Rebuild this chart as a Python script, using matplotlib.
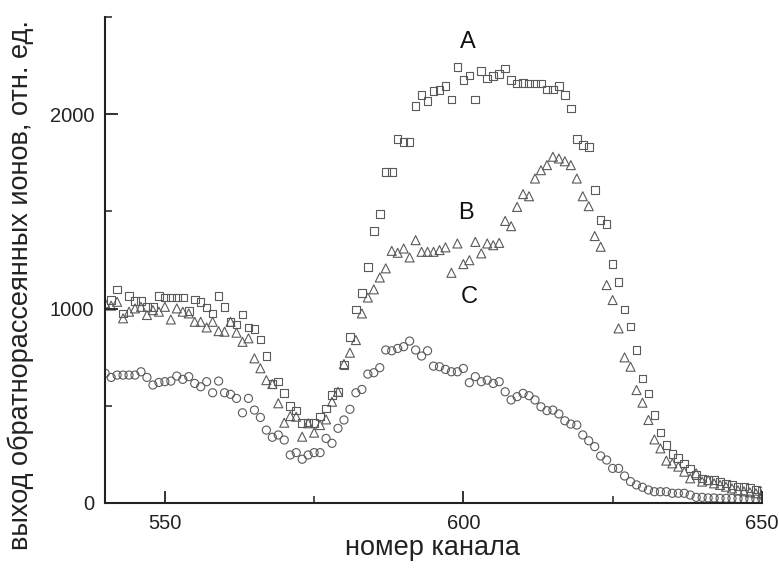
import numpy as np
import matplotlib
matplotlib.use('Agg')
import matplotlib.pyplot as plt
from matplotlib.ticker import MultipleLocator

plt.rcParams['font.family'] = ['Liberation Sans', 'DejaVu Sans']

# curve A (squares), channels 541..650
ch_a = np.arange(541, 651)
val_a = [1044, 1099, 975, 1064, 1040, 1040, 1009, 1009, 1064, 1058,
         1058, 1058, 1058, 989, 1047, 1035, 1006, 975, 1064, 1009,
         932, 919, 970, 903, 895, 842, 757, 612, 624, 567,
         499, 475, 410, 415, 413, 444, 487, 555, 572, 709,
         855, 996, 1081, 1215, 1400, 1486, 1703, 1703, 1871, 1858,
         1858, 2041, 2098, 2068, 2118, 2123, 2144, 2076, 2243, 2175,
         2200, 2076, 2221, 2184, 2195, 2206, 2235, 2175, 2158, 2161,
         2158, 2158, 2158, 2127, 2127, 2144, 2098, 2029, 1871, 1841,
         1832, 1609, 1455, 1434, 1229, 1138, 996, 907, 787, 641,
         564, 452, 362, 298, 252, 230, 204, 178, 144, 127,
         118, 118, 110, 101, 93, 84, 84, 78, 70, 65]

# curve B (triangles), channels 540..650
ch_b = np.arange(540, 651)
val_b = [1027, 1015, 1035, 950, 984, 1001, 1009, 967, 992, 984,
         1009, 944, 1001, 984, 975, 932, 932, 903, 932, 884,
         881, 932, 876, 829, 847, 744, 693, 632, 612, 513,
         413, 447, 444, 341, 410, 362, 401, 430, 521, 572,
         715, 773, 838, 975, 1057, 1099, 1160, 1207, 1297, 1287,
         1309, 1263, 1352, 1292, 1292, 1292, 1301, 1315, 1184, 1335,
         1229, 1249, 1343, 1284, 1335, 1326, 1338, 1451, 1424, 1523,
         1589, 1578, 1669, 1712, 1738, 1781, 1772, 1758, 1738, 1669,
         1578, 1527, 1373, 1318, 1121, 1044, 898, 749, 701, 581,
         516, 427, 327, 281, 218, 204, 187, 161, 127, 153,
         110, 118, 101, 93, 84, 75, 65, 60, 55, 50, 45]

# curve C (circles), channels 540..650
ch_c = np.arange(540, 651)
val_c = [667, 646, 658, 658, 658, 658, 675, 646, 607, 620,
         624, 627, 653, 636, 650, 615, 598, 624, 567, 627,
         567, 559, 538, 464, 538, 478, 440, 375, 338, 350,
         324, 247, 259, 225, 247, 259, 259, 332, 307, 384,
         427, 482, 567, 584, 663, 670, 696, 787, 783, 795,
         804, 833, 787, 756, 783, 704, 701, 687, 675, 675,
         692, 619, 650, 624, 632, 615, 624, 572, 530, 547,
         564, 552, 530, 495, 475, 478, 458, 423, 406, 401,
         350, 320, 290, 242, 221, 178, 178, 139, 110, 93,
         81, 67, 58, 58, 58, 50, 50, 50, 41, 29,
         29, 26, 26, 24, 24, 24, 22, 22, 20, 20, 20]

labels = ['A', 'B', 'C']
label_x = [600.7, 600.5, 601]
label_y = [2370, 1490, 1060]

fig = plt.figure(figsize=(7.79, 5.74), dpi=100)
ax = fig.add_axes([0.135, 0.1237, 0.843, 0.8467])

edge = '#5a5a5a'
ax.scatter(ch_a, val_a, marker='s', s=30, facecolors='none', edgecolors=edge, linewidths=0.8)
ax.scatter(ch_b, val_b, marker='^', s=42, facecolors='none', edgecolors=edge, linewidths=0.8)
ax.scatter(ch_c, val_c, marker='o', s=34, facecolors='none', edgecolors=edge, linewidths=0.8)

for t, x, y in zip(labels, label_x, label_y):
    ax.text(x, y, t, fontsize=17, ha='center', va='center', color='#111111')

ax.set_xlim(540, 650)
ax.set_ylim(0, 2500)
ax.xaxis.set_major_locator(MultipleLocator(50))
ax.xaxis.set_minor_locator(MultipleLocator(25))
ax.yaxis.set_major_locator(MultipleLocator(1000))
ax.yaxis.set_minor_locator(MultipleLocator(500))

for s in ['top', 'right']:
    ax.spines[s].set_visible(False)
for s in ['left', 'bottom']:
    ax.spines[s].set_linewidth(1.5)
    ax.spines[s].set_color('#222222')

ax.tick_params(which='major', direction='in', length=9, width=1.3, labelsize=14.5,
               colors='#222222', pad=8)
ax.tick_params(which='minor', direction='in', length=5, width=1.1, colors='#222222')

ax.set_xlabel('номер канала', fontsize=19.5, color='#222222')
ax.set_ylabel('выход обратнорассеянных ионов, отн. ед.', fontsize=19.5, color='#222222')
ax.xaxis.set_label_coords(0.498, -0.093)
ax.yaxis.set_label_coords(-0.129, 0.449)
ax.xaxis.label.set_va('center')
ax.yaxis.label.set_va('center')

fig.savefig('out.png', dpi=100)
